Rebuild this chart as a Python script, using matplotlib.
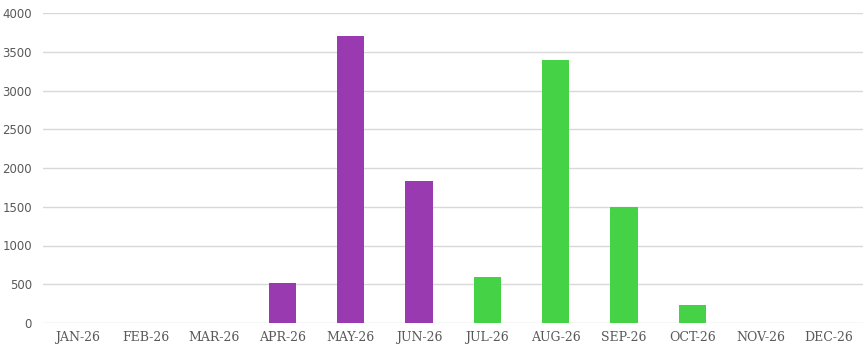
import matplotlib
matplotlib.use("Agg")
import matplotlib.pyplot as plt
import numpy as np

months = ['JAN-26', 'FEB-26', 'MAR-26', 'APR-26', 'MAY-26', 'JUN-26',
          'JUL-26', 'AUG-26', 'SEP-26', 'OCT-26', 'NOV-26', 'DEC-26']
purple_vals = [0, 0, 0, 520, 3700, 1830, 0, 0, 0, 0, 0, 0]
green_vals = [0, 0, 0, 0, 0, 0, 600, 3400, 1500, 230, 0, 0]
yticks = [0, 500, 1000, 1500, 2000, 2500, 3000, 3500, 4000]

plt.rcParams['font.serif'] = ['DejaVu Serif']

fig = plt.figure(figsize=(8.63, 3.51), dpi=100)
ax = fig.add_axes([43 / 863, 1 - 323 / 351, 820 / 863, 310 / 351])

x = np.arange(len(months))
width = 0.4
ax.bar(x, purple_vals, width, color='#993ab0', zorder=3)
ax.bar(x, green_vals, width, color='#46d246', zorder=3)

ax.set_xlim(-0.5, len(months) - 0.5)
ax.set_ylim(0, 4000)
ax.set_yticks(yticks)
ax.set_yticklabels([str(v) for v in yticks], fontsize=8.5, color='#595959',
                   family='DejaVu Sans')
ax.set_xticks(x)
ax.set_xticklabels(months, fontsize=9, color='#595959', family='serif')
ax.yaxis.grid(True, color='#d9d9d9', linewidth=1, zorder=0)
ax.tick_params(axis='both', length=0, pad=8)
ax.tick_params(axis='x', pad=6)
for s in ax.spines.values():
    s.set_visible(False)

fig.savefig('out.png', dpi=100)
